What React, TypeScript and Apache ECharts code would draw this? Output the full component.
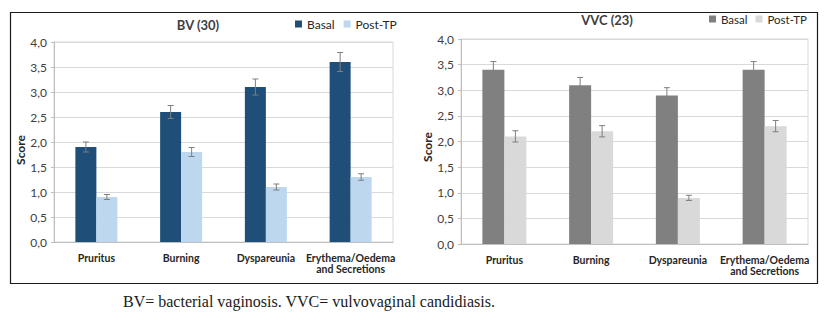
import React, { useEffect, useRef } from "react";
import * as echarts from "echarts";

const categories = ["Pruritus", "Burning", "Dyspareunia", "Erythema/Oedema\nand Secretions"];
const bvBasal = [1.9, 2.6, 3.1, 3.6];
const bvBasalErr = [0.1, 0.13, 0.16, 0.19];
const bvPost = [0.9, 1.8, 1.1, 1.3];
const bvPostErr = [0.05, 0.09, 0.06, 0.065];
const vvcBasal = [3.4, 3.1, 2.9, 3.4];
const vvcBasalErr = [0.16, 0.15, 0.15, 0.16];
const vvcPost = [2.1, 2.2, 0.9, 2.3];
const vvcPostErr = [0.11, 0.11, 0.05, 0.11];
const yMin = 0;
const yMax = 4;
const yInterval = 0.5;
const caption = "BV= bacterial vaginosis. VVC= vulvovaginal candidiasis.";

const FONT = "Lato, 'Open Sans', sans-serif";

function errSeries(name: string, vals: number[], errs: number[], axis: number, offset: number) {
  return {
    type: "custom",
    name,
    xAxisIndex: axis,
    yAxisIndex: axis,
    z: 10,
    silent: true,
    data: vals.map((v, i) => [i, v, errs[i]]),
    renderItem: (params: any, api: any) => {
      const idx = api.value(0);
      const v = api.value(1);
      const e = api.value(2);
      const hi = api.coord([idx, v + e]);
      const lo = api.coord([idx, v - e]);
      const x = hi[0] + offset;
      const style = { stroke: "#7f7f7f", lineWidth: 1 };
      return {
        type: "group",
        children: [
          { type: "line", shape: { x1: x, y1: hi[1], x2: x, y2: lo[1] }, style },
          { type: "line", shape: { x1: x - 3, y1: hi[1], x2: x + 3, y2: hi[1] }, style },
          { type: "line", shape: { x1: x - 3, y1: lo[1], x2: x + 3, y2: lo[1] }, style },
        ],
      };
    },
  };
}

function xAx(gridIndex: number, margin: number) {
  return {
    type: "category",
    gridIndex,
    data: categories,
    axisLine: { show: true, lineStyle: { color: "#bfbfbf" } },
    axisTick: { show: false },
    axisLabel: {
      margin,
      fontFamily: FONT,
      fontSize: 10.5,
      fontWeight: "bold",
      color: "#262626",
      lineHeight: 11.5,
      interval: 0,
    },
  };
}

function yAx(gridIndex: number) {
  return {
    type: "value",
    gridIndex,
    min: yMin,
    max: yMax,
    interval: yInterval,
    axisLine: { show: true, lineStyle: { color: "#bfbfbf" } },
    axisTick: { show: true, inside: false, length: 3, lineStyle: { color: "#bfbfbf" } },
    axisLabel: {
      margin: 7,
      fontFamily: FONT,
      fontSize: 12,
      color: "#404040",
      formatter: (v: number) => v.toFixed(1).replace(".", ","),
    },
    splitLine: { show: true, lineStyle: { color: "#d9d9d9" } },
  };
}

function scoreLabel(x: number, y: number) {
  return {
    type: "text",
    x,
    y,
    rotation: Math.PI / 2,
    silent: true,
    style: {
      text: "Score",
      font: "bold 12px " + FONT,
      fill: "#262626",
      align: "center",
      verticalAlign: "middle",
    },
  };
}

export default function App() {
  const ref = useRef<HTMLDivElement>(null);
  useEffect(() => {
    if (!ref.current) return;
    const chart = echarts.init(ref.current, undefined, { renderer: "svg" });
    chart.setOption({
      animation: false,
      backgroundColor: "#ffffff",
      title: [
        {
          text: "BV (30)",
          left: 198,
          top: 18,
          textAlign: "center",
          padding: 0,
          textStyle: { fontFamily: FONT, fontSize: 13, fontWeight: "bold", color: "#404040" },
        },
        {
          text: "VVC (23)",
          left: 607,
          top: 13,
          textAlign: "center",
          padding: 0,
          textStyle: { fontFamily: FONT, fontSize: 13, fontWeight: "bold", color: "#404040" },
        },
      ],
      legend: [
        {
          data: ["BV Basal", "BV Post-TP"],
          left: 295,
          top: 18,
          padding: 0,
          itemWidth: 7,
          itemHeight: 7,
          itemGap: 9,
          icon: "rect",
          formatter: (n: string) => n.replace("BV ", ""),
          textStyle: { fontFamily: FONT, fontSize: 12, color: "#262626" },
        },
        {
          data: ["VVC Basal", "VVC Post-TP"],
          left: 709,
          top: 13,
          padding: 0,
          itemWidth: 7,
          itemHeight: 7,
          itemGap: 8,
          icon: "rect",
          formatter: (n: string) => n.replace("VVC ", ""),
          textStyle: { fontFamily: FONT, fontSize: 11.5, color: "#262626" },
        },
      ],
      grid: [
        { left: 54, top: 42, width: 339, height: 200, show: true, borderColor: "#d9d9d9", borderWidth: 1 },
        { left: 461, top: 39, width: 347, height: 205, show: true, borderColor: "#d9d9d9", borderWidth: 1 },
      ],
      xAxis: [xAx(0, 10), xAx(1, 10)],
      yAxis: [yAx(0), yAx(1)],
      series: [
        {
          type: "bar",
          name: "BV Basal",
          xAxisIndex: 0,
          yAxisIndex: 0,
          data: bvBasal,
          barWidth: 21,
          barGap: "0%",
          itemStyle: { color: "#1f4e79" },
        },
        {
          type: "bar",
          name: "BV Post-TP",
          xAxisIndex: 0,
          yAxisIndex: 0,
          data: bvPost,
          barWidth: 21,
          barGap: "0%",
          itemStyle: { color: "#bdd7ee" },
        },
        {
          type: "bar",
          name: "VVC Basal",
          xAxisIndex: 1,
          yAxisIndex: 1,
          data: vvcBasal,
          barWidth: 22,
          barGap: "0%",
          itemStyle: { color: "#808080" },
        },
        {
          type: "bar",
          name: "VVC Post-TP",
          xAxisIndex: 1,
          yAxisIndex: 1,
          data: vvcPost,
          barWidth: 22,
          barGap: "0%",
          itemStyle: { color: "#d9d9d9" },
        },
        errSeries("bvBasalErr", bvBasal, bvBasalErr, 0, -10.5),
        errSeries("bvPostErr", bvPost, bvPostErr, 0, 10.5),
        errSeries("vvcBasalErr", vvcBasal, vvcBasalErr, 1, -11),
        errSeries("vvcPostErr", vvcPost, vvcPostErr, 1, 11),
      ],
      graphic: [
        {
          type: "rect",
          shape: { x: 10.5, y: 12.5, width: 807, height: 271 },
          style: { fill: "none", stroke: "#1a1a1a", lineWidth: 1.2 },
          silent: true,
        },
        scoreLabel(20, 150),
        scoreLabel(427, 147),
        {
          type: "text",
          x: 123,
          y: 301,
          style: {
            text: caption,
            font: "16px 'Liberation Serif', 'Times New Roman', serif",
            fill: "#1a1a1a",
            verticalAlign: "middle",
            align: "left",
          },
          silent: true,
        },
      ],
    });
    return () => chart.dispose();
  }, []);
  return (
    <div
      ref={ref}
      style={{ position: "absolute", left: 0, top: 0, width: 830, height: 321, background: "#fff" }}
    />
  );
}
